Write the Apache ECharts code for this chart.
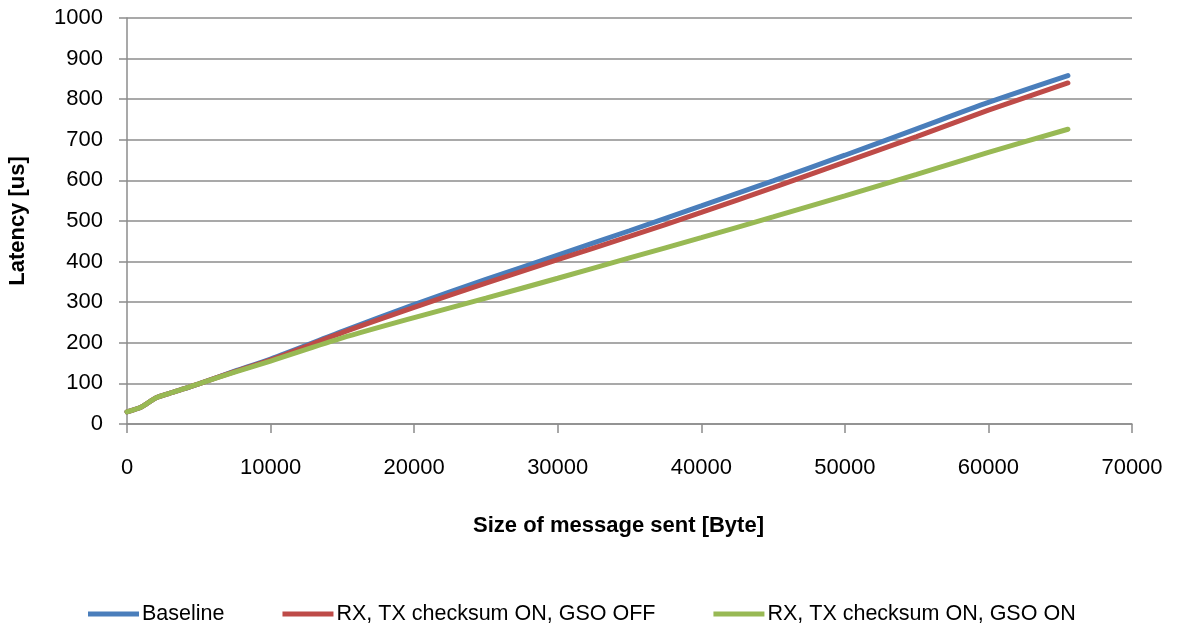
<!DOCTYPE html>
<html>
<head>
<meta charset="utf-8">
<script src="https://cdn.jsdelivr.net/npm/echarts@6/dist/echarts.min.js"></script>
<style>
html,body{margin:0;padding:0;background:#fff;}
#chart{width:1181px;height:635px;}
</style>
</head>
<body>
<div id="chart"></div>
<script>
// Data
var sizes = [0, 1000, 2000, 3000, 4000, 5000, 7500, 10000, 15000, 20000, 25000, 30000, 35000, 40000, 45000, 50000, 55000, 60000, 65536];
var baseline = [30, 42, 64, 76, 87, 99, 130, 160, 228, 294, 356, 416, 476, 537, 599, 662, 727, 792, 858];
var csumGsoOff = [30, 42, 64, 76, 87, 99, 129, 158, 225, 287, 347, 405, 462, 521, 582, 645, 708, 773, 840];
var csumGsoOn = [30, 42, 64, 76, 87, 99, 128, 155, 212, 262, 310, 359, 409, 459, 510, 562, 615, 669, 726];
var seriesNames = ['Baseline', 'RX, TX checksum ON, GSO OFF', 'RX, TX checksum ON, GSO ON'];
var xTitle = 'Size of message sent [Byte]';
var yTitle = 'Latency [us]';

function pairs(vals) {
  return sizes.map(function (s, i) { return [s, vals[i]]; });
}

var FONT = '"Liberation Sans", Arial, sans-serif';
var colors = ['#4A7EBB', '#BE4B48', '#98B954'];
var plain = function (v) { return String(v); };

var chart = echarts.init(document.getElementById('chart'), null, {renderer: 'canvas'});
chart.setOption({
  animation: false,
  color: colors,
  textStyle: {fontFamily: FONT},
  grid: {left: 127, right: 49, top: 18, bottom: 211, containLabel: false, outerBoundsMode: 'none'},
  legend: {
    bottom: 5,
    left: 83,
    itemWidth: 51,
    itemHeight: 5,
    itemGap: 58,
    icon: 'rect',
    textStyle: {fontSize: 21.5, color: '#000', fontFamily: FONT, padding: [0, 0, 0, -2]},
    data: seriesNames
  },
  xAxis: {
    type: 'value',
    min: 0, max: 70000, interval: 10000,
    name: xTitle,
    nameLocation: 'middle',
    nameGap: 91,
    nameTextStyle: {fontSize: 22, fontWeight: 'bold', color: '#000', fontFamily: FONT, padding: [0, 22, 0, 0]},
    axisLine: {show: true, lineStyle: {color: '#8c8c8c', width: 1.5}},
    axisTick: {show: true, length: 9, inside: false, lineStyle: {color: '#8c8c8c', width: 1.5}},
    axisLabel: {fontSize: 22, color: '#000', margin: 33, fontFamily: FONT, formatter: plain},
    splitLine: {show: false}
  },
  yAxis: {
    type: 'value',
    min: 0, max: 1000, interval: 100,
    name: yTitle,
    nameLocation: 'middle',
    nameGap: 98,
    nameRotate: 90,
    nameTextStyle: {fontSize: 22, fontWeight: 'bold', color: '#000', fontFamily: FONT},
    axisLine: {show: true, lineStyle: {color: '#8c8c8c', width: 1.5}},
    axisTick: {show: true, length: 8, inside: false, lineStyle: {color: '#8c8c8c', width: 1.5}},
    axisLabel: {fontSize: 22, color: '#000', margin: 24, fontFamily: FONT, formatter: plain},
    splitLine: {show: true, lineStyle: {color: '#8c8c8c', width: 1.5}}
  },
  series: [
    {name: seriesNames[0], type: 'line', data: pairs(baseline), smooth: 0.25, symbol: 'none', lineStyle: {width: 5, color: colors[0], cap: 'round'}, z: 3},
    {name: seriesNames[1], type: 'line', data: pairs(csumGsoOff), smooth: 0.25, symbol: 'none', lineStyle: {width: 5, color: colors[1], cap: 'round'}, z: 4},
    {name: seriesNames[2], type: 'line', data: pairs(csumGsoOn), smooth: 0.25, symbol: 'none', lineStyle: {width: 5, color: colors[2], cap: 'round'}, z: 5}
  ]
});
</script>
</body>
</html>
